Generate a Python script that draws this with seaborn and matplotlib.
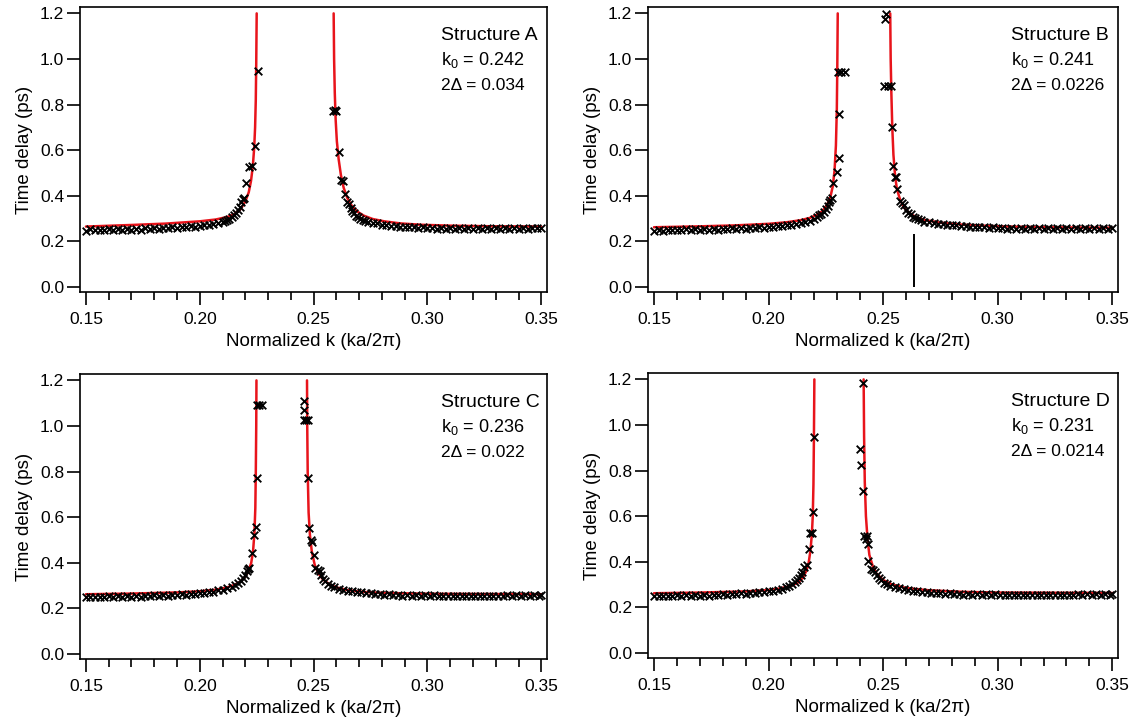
import numpy as np
import pandas as pd
import matplotlib
matplotlib.use("Agg")
import matplotlib.pyplot as plt
import seaborn as sns
from matplotlib.ticker import MultipleLocator, FormatStrFormatter

# ---------------- data ----------------
# Structure A
A_k = [0.150, 0.152, 0.154, 0.156, 0.158, 0.160, 0.162, 0.164, 0.166, 0.168, 0.170, 0.172, 0.174, 0.176,
       0.178, 0.180, 0.182, 0.184, 0.186, 0.188, 0.190, 0.192, 0.194, 0.196, 0.198, 0.200, 0.202, 0.204,
       0.206, 0.208, 0.210, 0.211, 0.212, 0.213, 0.214, 0.215, 0.216, 0.217, 0.2175, 0.218, 0.219, 0.2196,
       0.2205, 0.2218, 0.2228, 0.2244, 0.2255,
       0.2583, 0.2592, 0.2600, 0.2613, 0.2622, 0.2628, 0.2637, 0.2648, 0.2656, 0.2663, 0.2670, 0.2678,
       0.2686, 0.2695, 0.2705, 0.2715, 0.2725, 0.274, 0.276, 0.278, 0.280, 0.282, 0.284, 0.286, 0.288,
       0.290, 0.292, 0.294, 0.296, 0.298, 0.300, 0.302, 0.304, 0.306, 0.308, 0.310, 0.312, 0.314, 0.316,
       0.318, 0.320, 0.322, 0.324, 0.326, 0.328, 0.330, 0.332, 0.334, 0.336, 0.338, 0.340, 0.342, 0.344,
       0.346, 0.348, 0.350]
A_tau = [0.247, 0.253, 0.248, 0.252, 0.249, 0.254, 0.249, 0.253, 0.250, 0.255, 0.251, 0.255, 0.252, 0.257,
         0.253, 0.258, 0.255, 0.259, 0.257, 0.261, 0.259, 0.263, 0.262, 0.266, 0.265, 0.269, 0.270, 0.274,
         0.277, 0.281, 0.285, 0.289, 0.294, 0.300, 0.307, 0.315, 0.325, 0.338, 0.352, 0.372, 0.385, 0.392,
         0.455, 0.528, 0.530, 0.620, 0.949,
         0.772, 0.776, 0.772, 0.590, 0.470, 0.463, 0.410, 0.372, 0.362, 0.348, 0.335, 0.323,
         0.313, 0.306, 0.300, 0.294, 0.290, 0.286, 0.281, 0.279, 0.274, 0.273, 0.269, 0.268, 0.264,
         0.265, 0.261, 0.262, 0.258, 0.261, 0.257, 0.260, 0.256, 0.259, 0.255, 0.259, 0.255, 0.258, 0.254,
         0.258, 0.255, 0.258, 0.254, 0.258, 0.255, 0.258, 0.255, 0.259, 0.255, 0.259, 0.256, 0.260, 0.256,
         0.260, 0.257, 0.259]
A_fitL_k = [0.150, 0.170, 0.185, 0.200, 0.207, 0.212, 0.215, 0.218, 0.220, 0.2215, 0.2225, 0.2233, 0.2239,
            0.2243, 0.2246, 0.2248, 0.2250]
A_fitL_tau = [0.265, 0.272, 0.278, 0.288, 0.296, 0.307, 0.318, 0.342, 0.375, 0.415, 0.465, 0.530, 0.610,
              0.700, 0.820, 0.980, 1.200]
A_fitR_k = [0.2588, 0.2590, 0.2593, 0.2597, 0.2602, 0.2610, 0.2620, 0.2632, 0.2648, 0.2665, 0.269, 0.272,
            0.276, 0.281, 0.288, 0.297, 0.310, 0.330, 0.350]
A_fitR_tau = [1.200, 1.000, 0.850, 0.730, 0.640, 0.560, 0.490, 0.435, 0.390, 0.360, 0.332, 0.313,
              0.298, 0.288, 0.279, 0.273, 0.269, 0.266, 0.265]

# Structure B
B_k = [0.150, 0.152, 0.154, 0.156, 0.158, 0.160, 0.162, 0.164, 0.166, 0.168, 0.170, 0.172, 0.174, 0.176,
       0.178, 0.180, 0.182, 0.184, 0.186, 0.188, 0.190, 0.192, 0.194, 0.196, 0.198, 0.200, 0.202, 0.204,
       0.206, 0.208, 0.210, 0.212, 0.214, 0.216, 0.218, 0.220, 0.221, 0.222, 0.223, 0.224, 0.225, 0.2258,
       0.2264, 0.2270, 0.2275, 0.2282, 0.2298, 0.2306, 0.2309, 0.2305, 0.2318, 0.2332,
       0.2507, 0.2512, 0.2506, 0.2520, 0.2536, 0.2540, 0.2544, 0.2551, 0.2558, 0.2562, 0.2575, 0.2584,
       0.2592, 0.2600, 0.2610, 0.2620, 0.2630, 0.2640, 0.2652, 0.2665, 0.268, 0.270, 0.272, 0.274, 0.276,
       0.278, 0.280, 0.282, 0.284, 0.286, 0.288, 0.290, 0.292, 0.294, 0.296, 0.298, 0.300, 0.302, 0.304,
       0.306, 0.308, 0.310, 0.312, 0.314, 0.316, 0.318, 0.320, 0.322, 0.324, 0.326, 0.328, 0.330, 0.332,
       0.334, 0.336, 0.338, 0.340, 0.342, 0.344, 0.346, 0.348, 0.350]
B_tau = [0.246, 0.251, 0.247, 0.252, 0.248, 0.252, 0.248, 0.253, 0.249, 0.253, 0.250, 0.254, 0.251, 0.255,
         0.252, 0.256, 0.253, 0.257, 0.254, 0.258, 0.256, 0.260, 0.258, 0.262, 0.260, 0.264, 0.263, 0.267,
         0.267, 0.271, 0.272, 0.277, 0.280, 0.286, 0.291, 0.300, 0.306, 0.314, 0.322, 0.331, 0.342, 0.355,
         0.372, 0.380, 0.390, 0.456, 0.505, 0.564, 0.759, 0.941, 0.941, 0.941,
         1.174, 1.198, 0.882, 0.882, 0.882, 0.700, 0.532, 0.483, 0.483, 0.428, 0.375, 0.368,
         0.360, 0.338, 0.323, 0.318, 0.309, 0.302, 0.296, 0.292, 0.287, 0.284, 0.280, 0.278, 0.275,
         0.273, 0.271, 0.270, 0.267, 0.267, 0.264, 0.264, 0.261, 0.262, 0.258, 0.261, 0.257, 0.259, 0.256,
         0.258, 0.255, 0.258, 0.254, 0.257, 0.254, 0.257, 0.254, 0.257, 0.254, 0.257, 0.254, 0.257, 0.254,
         0.257, 0.255, 0.258, 0.255, 0.258, 0.255, 0.258, 0.256, 0.259]
B_fitL_k = [0.150, 0.170, 0.185, 0.200, 0.208, 0.214, 0.218, 0.221, 0.2235, 0.2255, 0.2270, 0.2280,
            0.2288, 0.2294, 0.2298, 0.2300, 0.2302]
B_fitL_tau = [0.262, 0.266, 0.270, 0.277, 0.284, 0.293, 0.303, 0.316, 0.333, 0.360, 0.395, 0.440,
              0.510, 0.620, 0.780, 0.960, 1.200]
B_fitR_k = [0.2531, 0.2533, 0.2536, 0.2540, 0.2545, 0.2552, 0.2560, 0.2575, 0.2590, 0.2610, 0.2640,
            0.268, 0.275, 0.285, 0.300, 0.320, 0.350]
B_fitR_tau = [1.200, 1.000, 0.850, 0.700, 0.580, 0.490, 0.430, 0.380, 0.350, 0.328, 0.308,
              0.294, 0.282, 0.273, 0.266, 0.262, 0.260]
B_mark_k = [0.2635]
B_mark_top = [0.232]

# Structure C
C_k = [0.150, 0.152, 0.154, 0.156, 0.158, 0.160, 0.162, 0.164, 0.166, 0.168, 0.170, 0.172, 0.174, 0.176,
       0.178, 0.180, 0.182, 0.184, 0.186, 0.188, 0.190, 0.192, 0.194, 0.196, 0.198, 0.200, 0.202, 0.204,
       0.206, 0.208, 0.210, 0.212, 0.214, 0.2155, 0.2168, 0.2180, 0.2190, 0.2198, 0.2206, 0.2212, 0.2217,
       0.2228, 0.2238, 0.2249, 0.2252, 0.2252, 0.2262, 0.2272,
       0.2458, 0.2458, 0.2456, 0.2466, 0.2474, 0.2475, 0.2479, 0.2487, 0.2491, 0.2500, 0.2507, 0.2518,
       0.2526, 0.2533, 0.2542, 0.2552, 0.2562, 0.2575, 0.259, 0.261, 0.263, 0.265, 0.267, 0.269, 0.271,
       0.273, 0.275, 0.277, 0.279, 0.281, 0.283, 0.285, 0.287, 0.289, 0.291, 0.293, 0.295, 0.297, 0.299,
       0.301, 0.303, 0.305, 0.307, 0.309, 0.311, 0.313, 0.315, 0.317, 0.319, 0.321, 0.323, 0.325, 0.327,
       0.329, 0.331, 0.333, 0.335, 0.337, 0.339, 0.341, 0.343, 0.345, 0.347, 0.349, 0.350]
C_tau = [0.248, 0.252, 0.248, 0.252, 0.249, 0.253, 0.249, 0.253, 0.250, 0.254, 0.251, 0.255, 0.252, 0.256,
         0.253, 0.257, 0.254, 0.258, 0.256, 0.260, 0.258, 0.262, 0.260, 0.264, 0.263, 0.267, 0.268, 0.272,
         0.274, 0.279, 0.282, 0.289, 0.295, 0.303, 0.312, 0.322, 0.335, 0.348, 0.365, 0.372, 0.376,
         0.442, 0.523, 0.556, 0.770, 1.093, 1.093, 1.093,
         1.109, 1.068, 1.027, 1.027, 1.027, 0.773, 0.552, 0.500, 0.489, 0.434, 0.376, 0.370,
         0.365, 0.345, 0.330, 0.318, 0.308, 0.300, 0.292, 0.286, 0.281, 0.277, 0.275, 0.271, 0.270,
         0.266, 0.266, 0.262, 0.263, 0.259, 0.261, 0.257, 0.260, 0.256, 0.259, 0.255, 0.258, 0.254, 0.257,
         0.254, 0.257, 0.253, 0.256, 0.253, 0.256, 0.253, 0.256, 0.253, 0.256, 0.253, 0.256, 0.253, 0.256,
         0.253, 0.256, 0.254, 0.257, 0.254, 0.257, 0.254, 0.257, 0.254, 0.257, 0.255, 0.257]
C_fitL_k = [0.150, 0.170, 0.190, 0.200, 0.207, 0.212, 0.215, 0.218, 0.220, 0.2215, 0.2226, 0.2234,
            0.2240, 0.2244, 0.2246, 0.2248, 0.2249]
C_fitL_tau = [0.262, 0.265, 0.270, 0.275, 0.282, 0.292, 0.302, 0.318, 0.340, 0.365, 0.400, 0.450,
              0.530, 0.640, 0.790, 1.000, 1.200]
C_fitR_k = [0.2471, 0.2472, 0.2474, 0.2478, 0.2484, 0.2492, 0.2505, 0.2520, 0.2540, 0.2570, 0.2600,
            0.265, 0.272, 0.280, 0.300, 0.350]
C_fitR_tau = [1.200, 1.000, 0.800, 0.620, 0.520, 0.450, 0.390, 0.355, 0.328, 0.305, 0.292,
              0.280, 0.272, 0.268, 0.264, 0.262]

# Structure D
D_k = [0.150, 0.152, 0.154, 0.156, 0.158, 0.160, 0.162, 0.164, 0.166, 0.168, 0.170, 0.172, 0.174, 0.176,
       0.178, 0.180, 0.182, 0.184, 0.186, 0.188, 0.190, 0.192, 0.194, 0.196, 0.198, 0.200, 0.202, 0.204,
       0.206, 0.2075, 0.2090, 0.2102, 0.2115, 0.2125, 0.2135, 0.2142, 0.2148, 0.2155, 0.2169, 0.2175,
       0.2181, 0.2191, 0.2195, 0.2197,
       0.2412, 0.2401, 0.2404, 0.2412, 0.2416, 0.2429, 0.2424, 0.2432, 0.2433, 0.2445, 0.2455, 0.2464,
       0.2472, 0.2482, 0.2492, 0.2502, 0.2515, 0.253, 0.255, 0.257, 0.259, 0.261, 0.263, 0.265, 0.267,
       0.269, 0.271, 0.273, 0.275, 0.277, 0.279, 0.281, 0.283, 0.285, 0.287, 0.289, 0.291, 0.293, 0.295,
       0.297, 0.299, 0.301, 0.303, 0.305, 0.307, 0.309, 0.311, 0.313, 0.315, 0.317, 0.319, 0.321, 0.323,
       0.325, 0.327, 0.329, 0.331, 0.333, 0.335, 0.337, 0.339, 0.341, 0.343, 0.345, 0.347, 0.349, 0.350]
D_tau = [0.248, 0.252, 0.248, 0.252, 0.249, 0.253, 0.249, 0.253, 0.250, 0.254, 0.251, 0.255, 0.252, 0.256,
         0.253, 0.257, 0.255, 0.259, 0.257, 0.261, 0.259, 0.263, 0.262, 0.267, 0.267, 0.271, 0.273, 0.278,
         0.282, 0.288, 0.294, 0.301, 0.310, 0.318, 0.328, 0.340, 0.355, 0.378, 0.388, 0.458,
         0.525, 0.525, 0.620, 0.949,
         1.182, 0.894, 0.824, 0.710, 0.514, 0.514, 0.499, 0.477, 0.403, 0.369, 0.362, 0.355,
         0.340, 0.327, 0.318, 0.309, 0.302, 0.295, 0.289, 0.283, 0.280, 0.276, 0.274, 0.271, 0.269,
         0.266, 0.265, 0.262, 0.263, 0.259, 0.261, 0.257, 0.259, 0.256, 0.258, 0.255, 0.258, 0.254, 0.257,
         0.254, 0.257, 0.254, 0.256, 0.253, 0.256, 0.253, 0.256, 0.253, 0.256, 0.253, 0.256, 0.253, 0.256,
         0.253, 0.256, 0.254, 0.256, 0.254, 0.257, 0.254, 0.257, 0.255, 0.257, 0.255, 0.258, 0.256, 0.258]
D_fitL_k = [0.150, 0.170, 0.190, 0.200, 0.205, 0.210, 0.213, 0.215, 0.2165, 0.2175, 0.2183, 0.2189,
            0.2193, 0.2196, 0.2198, 0.2200]
D_fitL_tau = [0.262, 0.265, 0.270, 0.276, 0.283, 0.295, 0.310, 0.330, 0.360, 0.395, 0.450, 0.520,
              0.600, 0.740, 0.940, 1.200]
D_fitR_k = [0.2415, 0.2417, 0.2420, 0.2425, 0.2432, 0.2440, 0.2455, 0.2470, 0.2500, 0.2540, 0.2600,
            0.270, 0.285, 0.300, 0.350]
D_fitR_tau = [1.200, 0.950, 0.750, 0.600, 0.500, 0.430, 0.380, 0.350, 0.320, 0.300, 0.285,
              0.275, 0.268, 0.265, 0.263]

structures = ["A", "B", "C", "D"]
k0_labels = ["0.242", "0.241", "0.236", "0.231"]
delta_labels = ["0.034", "0.0226", "0.022", "0.0214"]
x_ticks = [0.15, 0.20, 0.25, 0.30, 0.35]
y_ticks = [0.0, 0.2, 0.4, 0.6, 0.8, 1.0, 1.2]

panels = {
    "A": (A_k, A_tau, A_fitL_k, A_fitL_tau, A_fitR_k, A_fitR_tau),
    "B": (B_k, B_tau, B_fitL_k, B_fitL_tau, B_fitR_k, B_fitR_tau),
    "C": (C_k, C_tau, C_fitL_k, C_fitL_tau, C_fitR_k, C_fitR_tau),
    "D": (D_k, D_tau, D_fitL_k, D_fitL_tau, D_fitR_k, D_fitR_tau),
}

# ---------------- style ----------------
sns.set_style("ticks")
plt.rcParams["font.family"] = ["Liberation Sans", "DejaVu Sans"]
plt.rcParams["mathtext.fontset"] = "custom"
plt.rcParams["mathtext.rm"] = "Liberation Sans"
plt.rcParams["mathtext.it"] = "Liberation Sans:italic"
plt.rcParams["axes.linewidth"] = 1.2
plt.rcParams["axes.edgecolor"] = "black"
plt.rcParams["xtick.color"] = "black"
plt.rcParams["ytick.color"] = "black"
plt.rcParams["text.color"] = "black"
plt.rcParams["axes.labelcolor"] = "black"

fig = plt.figure(figsize=(11.35, 7.25), dpi=100)
W, H = 1135, 725
boxes = {  # left, right, top, bottom in pixels
    "A": (80, 547, 7, 292),
    "B": (648, 1118, 7, 292),
    "C": (80, 547, 374, 659),
    "D": (648, 1118, 373, 658),
}

for i, s in enumerate(structures):
    l, r, t, b = boxes[s]
    ax = fig.add_axes([l / W, 1 - b / H, (r - l) / W, (b - t) / H])
    k, tau, fLk, fLt, fRk, fRt = panels[s]
    df = pd.DataFrame({"k": k, "tau": tau})
    dfl = pd.DataFrame({"k": fLk, "tau": fLt})
    dfr = pd.DataFrame({"k": fRk, "tau": fRt})
    sns.lineplot(data=dfl, x="k", y="tau", color="#e8141b", lw=1.8, sort=False,
                 estimator=None, ax=ax, zorder=2)
    sns.lineplot(data=dfr, x="k", y="tau", color="#e8141b", lw=1.8, sort=False,
                 estimator=None, ax=ax, zorder=2)
    sns.scatterplot(data=df, x="k", y="tau", marker="x", color="black", s=30,
                    linewidth=1.35, ax=ax, zorder=3)
    if s == "B":
        ax.vlines(B_mark_k, 0, B_mark_top, color="black", lw=1.4, zorder=3)

    ax.set_xlim(0.1474, 0.3525)
    ax.set_ylim(-0.022, 1.228)
    ax.set_xticks(x_ticks)
    ax.set_yticks(y_ticks)
    ax.xaxis.set_minor_locator(MultipleLocator(0.01))
    ax.xaxis.set_major_formatter(FormatStrFormatter("%.2f"))
    ax.yaxis.set_major_formatter(FormatStrFormatter("%.1f"))
    ax.tick_params(axis="x", which="major", direction="out", length=9.5, width=1.2,
                   labelsize=12.5, pad=5)
    ax.tick_params(axis="x", which="minor", direction="out", length=5.5, width=1.2)
    ax.tick_params(axis="y", which="major", direction="out", length=9.5, width=1.2,
                   labelsize=12.5, pad=2)
    for sp in ax.spines.values():
        sp.set_visible(True)
        sp.set_linewidth(1.2)
        sp.set_color("black")
    ax.set_xlabel("Normalized k (ka/2\u03c0)", fontsize=13.5, labelpad=4)
    ax.set_ylabel("Time delay (ps)", fontsize=13.5, labelpad=5)

    ax.text(0.306, 1.105, f"Structure {s}", fontsize=14, va="center", ha="left")
    ax.text(0.306, 0.995, r"k$_\mathrm{0}$" + f" = {k0_labels[i]}", fontsize=13,
            va="center", ha="left")
    ax.text(0.306, 0.885, f"2\u0394 = {delta_labels[i]}", fontsize=12.5,
            va="center", ha="left")

fig.savefig("out.png", dpi=100)
